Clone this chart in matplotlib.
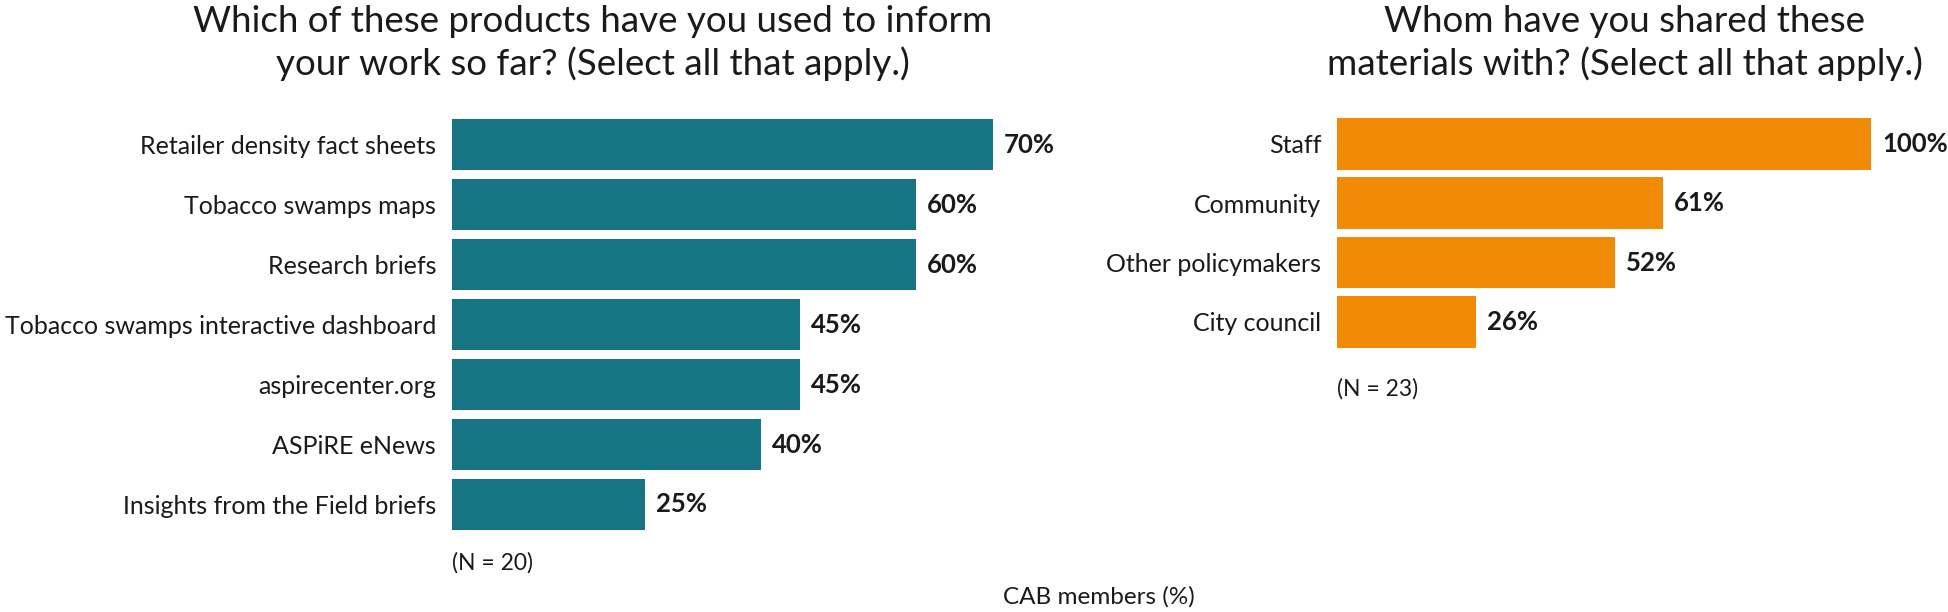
import matplotlib
matplotlib.use('Agg')
import matplotlib.pyplot as plt

# data
products = ['Retailer density fact sheets', 'Tobacco swamps maps', 'Research briefs',
            'Tobacco swamps interactive dashboard', 'aspirecenter.org',
            'ASPiRE eNews', 'Insights from the Field briefs']
products_pct = [70, 60, 60, 45, 45, 40, 25]

shared = ['Staff', 'Community', 'Other policymakers', 'City council']
shared_pct = [100, 61, 52, 26]

teal = '#177482'
orange = '#F18B05'
ink = '#1a1a1a'

W, H = 1949, 612
plt.rcParams['font.family'] = ['Lato', 'DejaVu Sans']
fig = plt.figure(figsize=(W / 100, H / 100), dpi=100)


def px_axes(x0, y0, x1, y1):
    # pixel box (top-left origin) -> figure axes
    return fig.add_axes([x0 / W, 1 - y1 / H, (x1 - x0) / W, (y1 - y0) / H])


def draw(ax, cats, vals, color, height):
    n = len(cats)
    ax.barh(range(n), vals, height=height, color=color)
    ax.set_xlim(0, 100)
    ax.set_ylim(n - 0.5, -0.5)
    ax.set_yticks(range(n))
    ax.set_yticklabels(cats, fontsize=18, color=ink)
    ax.tick_params(axis='y', length=0, pad=11.5)
    ax.set_xticks([])
    for s in ax.spines.values():
        s.set_visible(False)
    ax.patch.set_visible(False)
    for i, v in enumerate(vals):
        ax.annotate(f'{v}%', xy=(v, i), xytext=(8, 0), textcoords='offset points',
                    va='center', ha='left', fontsize=18.5, fontweight='bold', color=ink,
                    annotation_clip=False)


ax1 = px_axes(452, 114.5, 1225, 534.5)
draw(ax1, products, products_pct, teal, 0.85)

ax2 = px_axes(1337, 114.3, 1871, 351.5)
draw(ax2, shared, shared_pct, orange, 0.87)

# titles, one text per line
for x, lines in [(593, ['Which of these products have you used to inform',
                        'your work so far? (Select all that apply.)']),
                 (1625, ['Whom have you shared these',
                         'materials with? (Select all that apply.)'])]:
    for k, line in enumerate(lines):
        fig.text(x / W, 1 - (32 + 43 * k) / H, line, ha='center', va='baseline',
                 fontsize=26.5, color=ink)

fig.text(452 / W, 1 - 563 / H, '(N = 20)', ha='left', va='center', fontsize=16.5, color=ink)
fig.text(1337 / W, 1 - 389 / H, '(N = 23)', ha='left', va='center', fontsize=16.5, color=ink)
fig.text(1099 / W, 1 - 597 / H, 'CAB members (%)', ha='center', va='center', fontsize=17.5, color=ink)

fig.savefig('out.png', dpi=100)
